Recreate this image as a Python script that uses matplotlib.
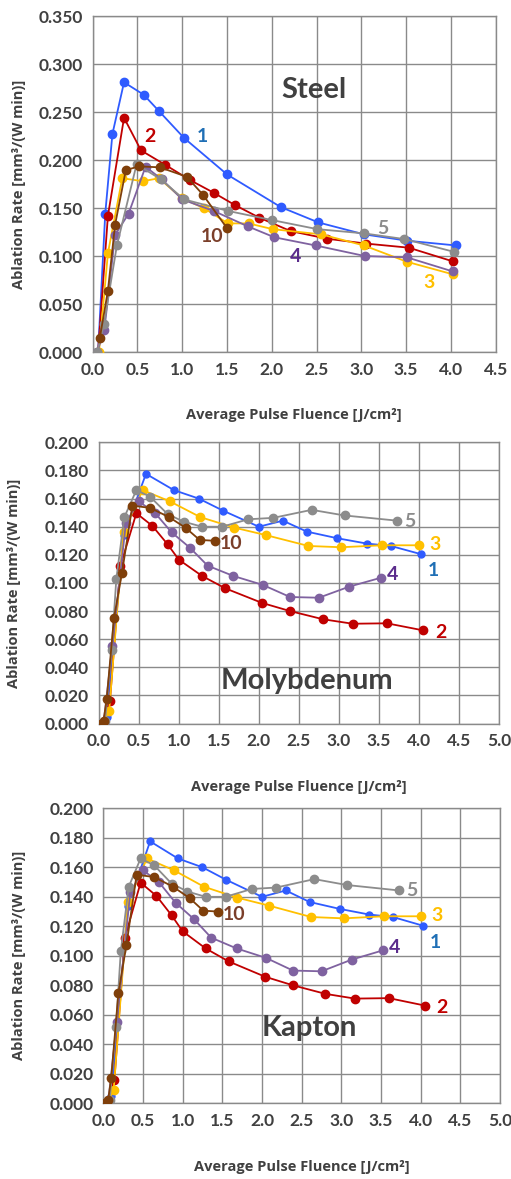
import matplotlib
matplotlib.use("Agg")
import matplotlib.pyplot as plt

plt.rcParams['font.family'] = ['Lato', 'DejaVu Sans']

### Steel data (series 1,2,3,4,5,10)
steel_x1 = [0.06, 0.14, 0.22, 0.35, 0.57, 0.74, 1.02, 1.50, 2.10, 2.52, 3.03, 3.51, 4.06]
steel_y1 = [0.0, 0.144, 0.227, 0.281, 0.268, 0.251, 0.223, 0.185, 0.151, 0.135, 0.1226, 0.116, 0.111]
steel_x2 = [0.06, 0.17, 0.35, 0.54, 0.81, 1.09, 1.35, 1.59, 1.86, 2.21, 2.62, 3.05, 3.53, 4.02]
steel_y2 = [0.0, 0.142, 0.244, 0.210, 0.195, 0.179, 0.166, 0.153, 0.140, 0.126, 0.118, 0.113, 0.1087, 0.0945]
steel_x3 = [0.07, 0.17, 0.33, 0.56, 0.74, 1.0, 1.24, 1.51, 1.74, 2.01, 2.55, 3.03, 3.51, 4.02]
steel_y3 = [0.0, 0.103, 0.181, 0.178, 0.181, 0.160, 0.150, 0.134, 0.134, 0.128, 0.1226, 0.111, 0.094, 0.081]
steel_x4 = [0.05, 0.13, 0.25, 0.40, 0.59, 0.77, 1.0, 1.36, 1.73, 2.03, 2.49, 3.04, 3.51, 4.02]
steel_y4 = [0.0, 0.023, 0.122, 0.144, 0.193, 0.180, 0.159, 0.1466, 0.131, 0.1195, 0.111, 0.100, 0.0986, 0.084]
steel_x5 = [0.05, 0.126, 0.27, 0.49, 0.76, 1.02, 1.51, 2.0, 2.51, 3.03, 3.48, 4.03]
steel_y5 = [0.0, 0.029, 0.111, 0.1955, 0.180, 0.159, 0.147, 0.1375, 0.128, 0.1236, 0.1177, 0.1045]
steel_x10 = [0.08, 0.17, 0.25, 0.37, 0.52, 0.75, 1.05, 1.23, 1.50]
steel_y10 = [0.015, 0.064, 0.1326, 0.1896, 0.1934, 0.1924, 0.1826, 0.164, 0.129]

### Molybdenum / Kapton data (identical curves)
mo_x1 = [0.05, 0.10, 0.31, 0.59, 0.94, 1.25, 1.55, 2.0, 2.30, 2.60, 2.98, 3.35, 3.65, 4.03]
mo_y1 = [0.0, 0.005, 0.134, 0.1776, 0.166, 0.160, 0.1515, 0.140, 0.1443, 0.1365, 0.1318, 0.128, 0.1263, 0.1204]
mo_x2 = [0.04, 0.14, 0.27, 0.47, 0.67, 0.86, 1.0, 1.29, 1.58, 2.04, 2.39, 2.80, 3.17, 3.60, 4.05]
mo_y2 = [0.0, 0.016, 0.112, 0.1496, 0.1406, 0.1275, 0.1166, 0.105, 0.0962, 0.0858, 0.080, 0.0742, 0.071, 0.0713, 0.0663]
mo_x3 = [0.05, 0.13, 0.31, 0.55, 0.89, 1.27, 1.69, 2.09, 2.62, 3.03, 3.54, 4.0]
mo_y3 = [0.0, 0.009, 0.1365, 0.166, 0.158, 0.1468, 0.1394, 0.134, 0.1263, 0.1254, 0.1268, 0.1268]
mo_x4 = [0.06, 0.17, 0.34, 0.50, 0.70, 0.91, 1.14, 1.36, 1.68, 2.05, 2.39, 2.75, 3.13, 3.53]
mo_y4 = [0.0, 0.055, 0.143, 0.158, 0.150, 0.136, 0.125, 0.1123, 0.105, 0.0986, 0.090, 0.0895, 0.0974, 0.1038]
mo_x5 = [0.08, 0.16, 0.22, 0.32, 0.47, 0.64, 0.86, 1.06, 1.29, 1.54, 1.87, 2.18, 2.66, 3.07, 3.73]
mo_y5 = [0.002, 0.052, 0.103, 0.1468, 0.166, 0.1614, 0.149, 0.1436, 0.140, 0.140, 0.1453, 0.1463, 0.152, 0.148, 0.1443]
mo_x10 = [0.025, 0.06, 0.10, 0.19, 0.29, 0.42, 0.64, 0.88, 1.09, 1.26, 1.45]
mo_y10 = [0.0, 0.002, 0.0174, 0.0749, 0.107, 0.155, 0.1534, 0.1468, 0.139, 0.1306, 0.130]

series_names = ["1", "2", "3", "4", "5", "10"]
line_colors = ["#2F5BFF", "#C00000", "#FFC000", "#7F62A0", "#8C8C8C", "#7F3F0A"]
label_colors = ["#1F6FB5", "#C00000", "#FFC000", "#5B2C8C", "#8C8C8C", "#7B3F2A"]

steel_series = [(steel_x1, steel_y1), (steel_x2, steel_y2), (steel_x3, steel_y3),
                (steel_x4, steel_y4), (steel_x5, steel_y5), (steel_x10, steel_y10)]
mo_series = [(mo_x1, mo_y1), (mo_x2, mo_y2), (mo_x3, mo_y3),
             (mo_x4, mo_y4), (mo_x5, mo_y5), (mo_x10, mo_y10)]

# label positions (data coords) for series numbers
steel_lbl = [(1.23, 0.224), (0.64, 0.224), (3.75, 0.072), (2.26, 0.100), (3.24, 0.129), (1.33, 0.120)]
mo_lbl = [(4.18, 0.109), (4.27, 0.065), (4.2, 0.127), (3.67, 0.1057), (3.89, 0.144), (1.65, 0.128)]

txt_col = "#404040"
lab_font = ["Open Sans", "DejaVu Sans"]
fig = plt.figure(figsize=(5.11, 11.79), dpi=100)

def draw_panel(rect, series, lbl, xmax, ymax, ystep, title, title_pos, ylab_x, ms_main, ms_blue):
    ax = fig.add_axes(rect)
    for i, (xs, ys) in enumerate(series):
        ms = ms_blue if i == 0 else ms_main
        ax.plot(xs, ys, color=line_colors[i], lw=1.3, marker="o", ms=ms, zorder=3 + i)
        ax.text(lbl[i][0], lbl[i][1], series_names[i], color=label_colors[i],
                fontsize=14, fontweight="bold", ha="center", va="center")
    nx = int(round(xmax / 0.5)) + 1
    ny = int(round(ymax / ystep)) + 1
    ax.set_xlim(0, xmax)
    ax.set_ylim(0, ymax)
    ax.set_xticks([k * 0.5 for k in range(nx)])
    ax.set_yticks([k * ystep for k in range(ny)])
    ax.set_xticklabels(["{:.1f}".format(k * 0.5) for k in range(nx)])
    ax.set_yticklabels(["{:.3f}".format(k * ystep) for k in range(ny)])
    ax.grid(True, color="#8a8a8a", lw=1.0)
    ax.set_axisbelow(True)
    for sp in ax.spines.values():
        sp.set_color("#8a8a8a")
        sp.set_linewidth(1.0)
    ax.tick_params(length=0, labelsize=12.5, labelcolor=txt_col, pad=7)
    for t in ax.get_xticklabels() + ax.get_yticklabels():
        t.set_fontweight("bold")
    ax.set_ylabel("Ablation Rate [mm³/(W min)]", fontsize=10.5, fontweight="bold",
                  color=txt_col, family=lab_font)
    ax.yaxis.set_label_coords(ylab_x, 0.5)
    ax.set_xlabel("Average Pulse Fluence [J/cm²]", fontsize=10.5, fontweight="bold",
                  color=txt_col, labelpad=22, family=lab_font)
    ax.text(title_pos[0], title_pos[1], title, fontsize=21, fontweight="bold",
            color=txt_col, ha="center", va="center")
    return ax

draw_panel([0.1814, 0.7014, 0.7886, 0.285], steel_series, steel_lbl, 4.5, 0.35, 0.05,
           "Steel", (2.47, 0.273), -0.165, 6, 6)
draw_panel([0.1932, 0.3863, 0.7834, 0.2385], mo_series, mo_lbl, 5.0, 0.2, 0.02,
           "Molybdenum", (2.6, 0.030), -0.195, 6, 5)
draw_panel([0.2022, 0.0642, 0.7763, 0.2502], mo_series, mo_lbl, 5.0, 0.2, 0.02,
           "Kapton", (2.6, 0.051), -0.195, 6, 5)

fig.savefig("out.png", dpi=100)
